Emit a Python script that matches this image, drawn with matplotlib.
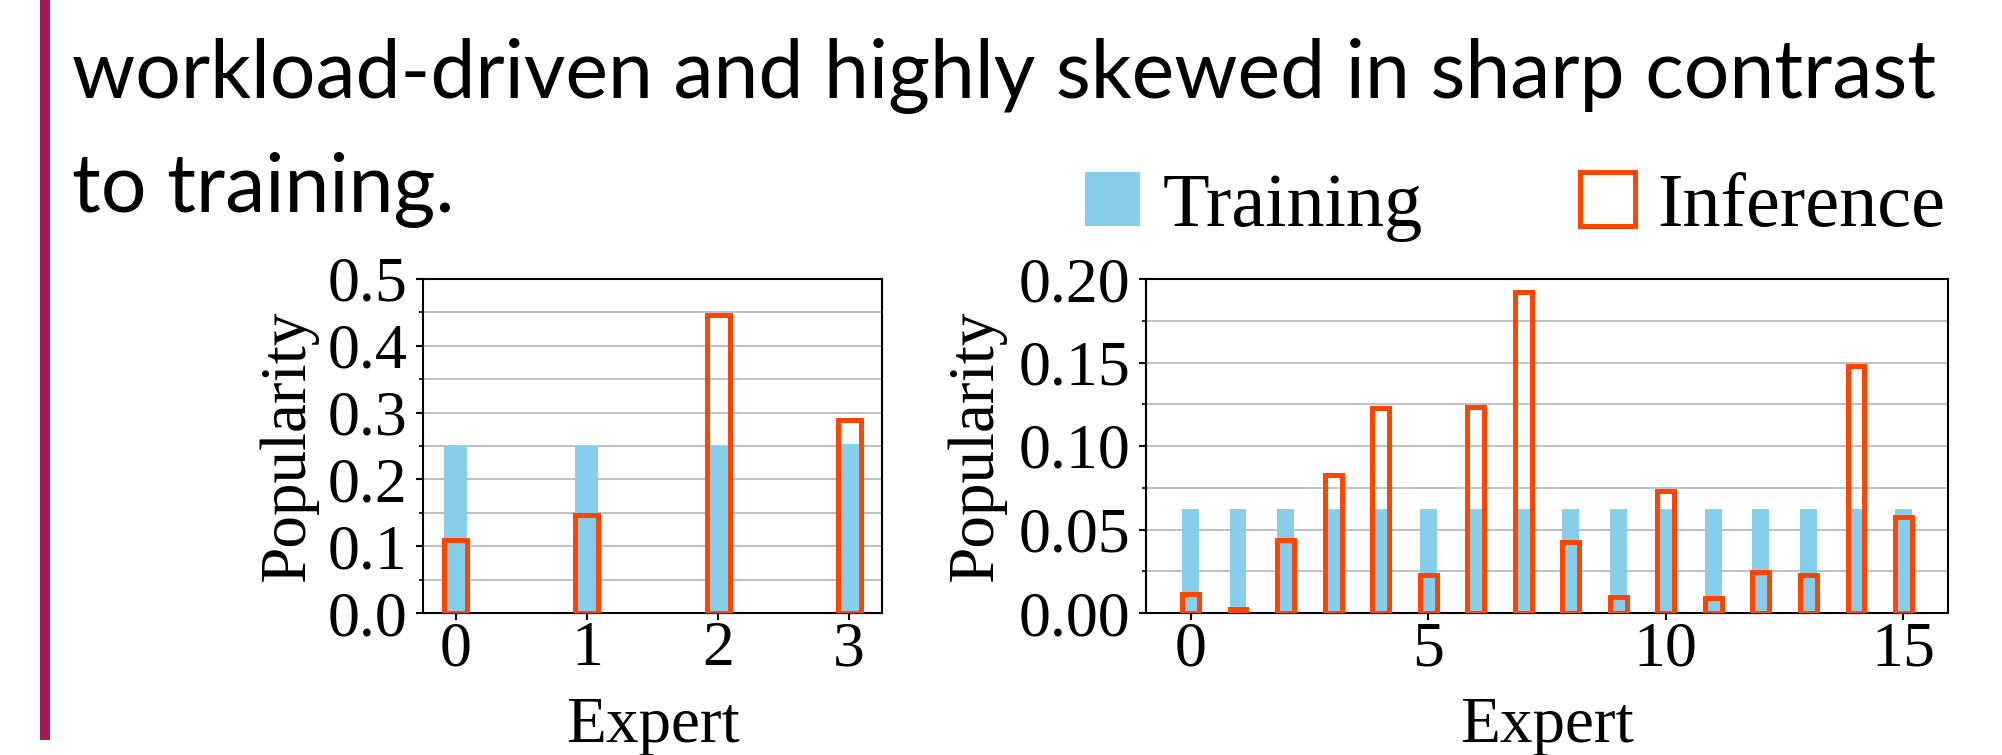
import matplotlib
matplotlib.use("Agg")
import matplotlib.pyplot as plt
from matplotlib.ticker import MultipleLocator, FormatStrFormatter

# ------ Data ------
experts_4 = [0, 1, 2, 3]
train_4 = [0.25, 0.25, 0.25, 0.253]
infer_4 = [0.110, 0.146, 0.446, 0.289]

experts_16 = list(range(16))
train_16 = [0.0625] * 16
infer_16 = [0.0115, 0.0025, 0.044, 0.0827, 0.1229, 0.0229, 0.1235, 0.1925,
            0.0428, 0.0093, 0.0728, 0.0087, 0.0244, 0.0229, 0.1478, 0.0576]

slide_lines = ["workload-driven and highly skewed in sharp contrast", "to training."]

# ------ Style ------
W, H = 2002, 755
TRAIN_COLOR = "#87CEEB"
INFER_COLOR = "#FF4500"

plt.rcParams["font.family"] = "Liberation Serif"

fig = plt.figure(figsize=(W / 100, H / 100), dpi=100)

# slide accent bar and text
fig.add_artist(plt.Rectangle((40 / W, 1 - 740 / H), 10 / W, 740 / H,
                             transform=fig.transFigure, color="#A8195A", lw=0))
fig.text(72 / W, 1 - 98 / H, slide_lines[0], family="Lato", fontsize=58,
         va="baseline", ha="left")
fig.text(72 / W, 1 - 212 / H, slide_lines[1], family="Lato", fontsize=58,
         va="baseline", ha="left")


def draw_panel(rect, xs, train, infer, width, ymax, major, minor, xtick_step, xlim, ylab_x, fmt):
    ax = fig.add_axes(rect)
    ax.set_axisbelow(True)
    ax.bar(xs, train, width=width, color=TRAIN_COLOR, lw=0, label="Training", zorder=2)
    ax.bar(xs, infer, width=width, facecolor="none", edgecolor=INFER_COLOR,
           lw=3.6, label="Inference", zorder=3)
    ax.set_ylim(0, ymax)
    ax.set_xlim(*xlim)
    ax.yaxis.set_major_locator(MultipleLocator(major))
    ax.yaxis.set_minor_locator(MultipleLocator(minor))
    ax.yaxis.set_major_formatter(FormatStrFormatter(fmt))
    ax.xaxis.set_major_locator(MultipleLocator(xtick_step))
    ax.grid(axis="y", which="both", color="#c0c0c0", lw=1.4)
    for s in ax.spines.values():
        s.set_linewidth(1.5)
    ax.tick_params(axis="both", which="major", labelsize=46, length=5, width=1.5)
    ax.tick_params(axis="y", which="major", pad=6)
    ax.tick_params(axis="x", which="major", pad=1)
    ax.tick_params(axis="y", which="minor", length=3, width=1.2)
    ax.set_ylabel("Popularity", fontsize=47, va="center", ha="center")
    ax.yaxis.set_label_coords(ylab_x, 0.5)
    ax.set_xlabel("Expert", fontsize=47, va="baseline")
    ax.xaxis.set_label_coords(0.5, -0.386)
    return ax


bottom = 1 - 613 / H
height = 334 / H
ax1 = draw_panel([423 / W, bottom, 459 / W, height], experts_4, train_4, infer_4,
                 0.175, 0.5, 0.1, 0.05, 1, (-0.25, 3.25), -0.294, "%.1f")
ax2 = draw_panel([1146 / W, bottom, 802 / W, height], experts_16, train_16, infer_16,
                 0.35, 0.2, 0.05, 0.025, 5, (-0.94, 15.94), -0.212, "%.2f")

handles, labels = ax2.get_legend_handles_labels()
fig.legend(handles, labels, loc="center left", bbox_to_anchor=(1085 / W, 1 - 207 / H),
           frameon=False, fontsize=55, borderpad=0, borderaxespad=0,
           handlelength=0.72, handleheight=0.7, handletextpad=0.3,
           columnspacing=2.05, ncol=2)

fig.savefig("out.png", dpi=100)
